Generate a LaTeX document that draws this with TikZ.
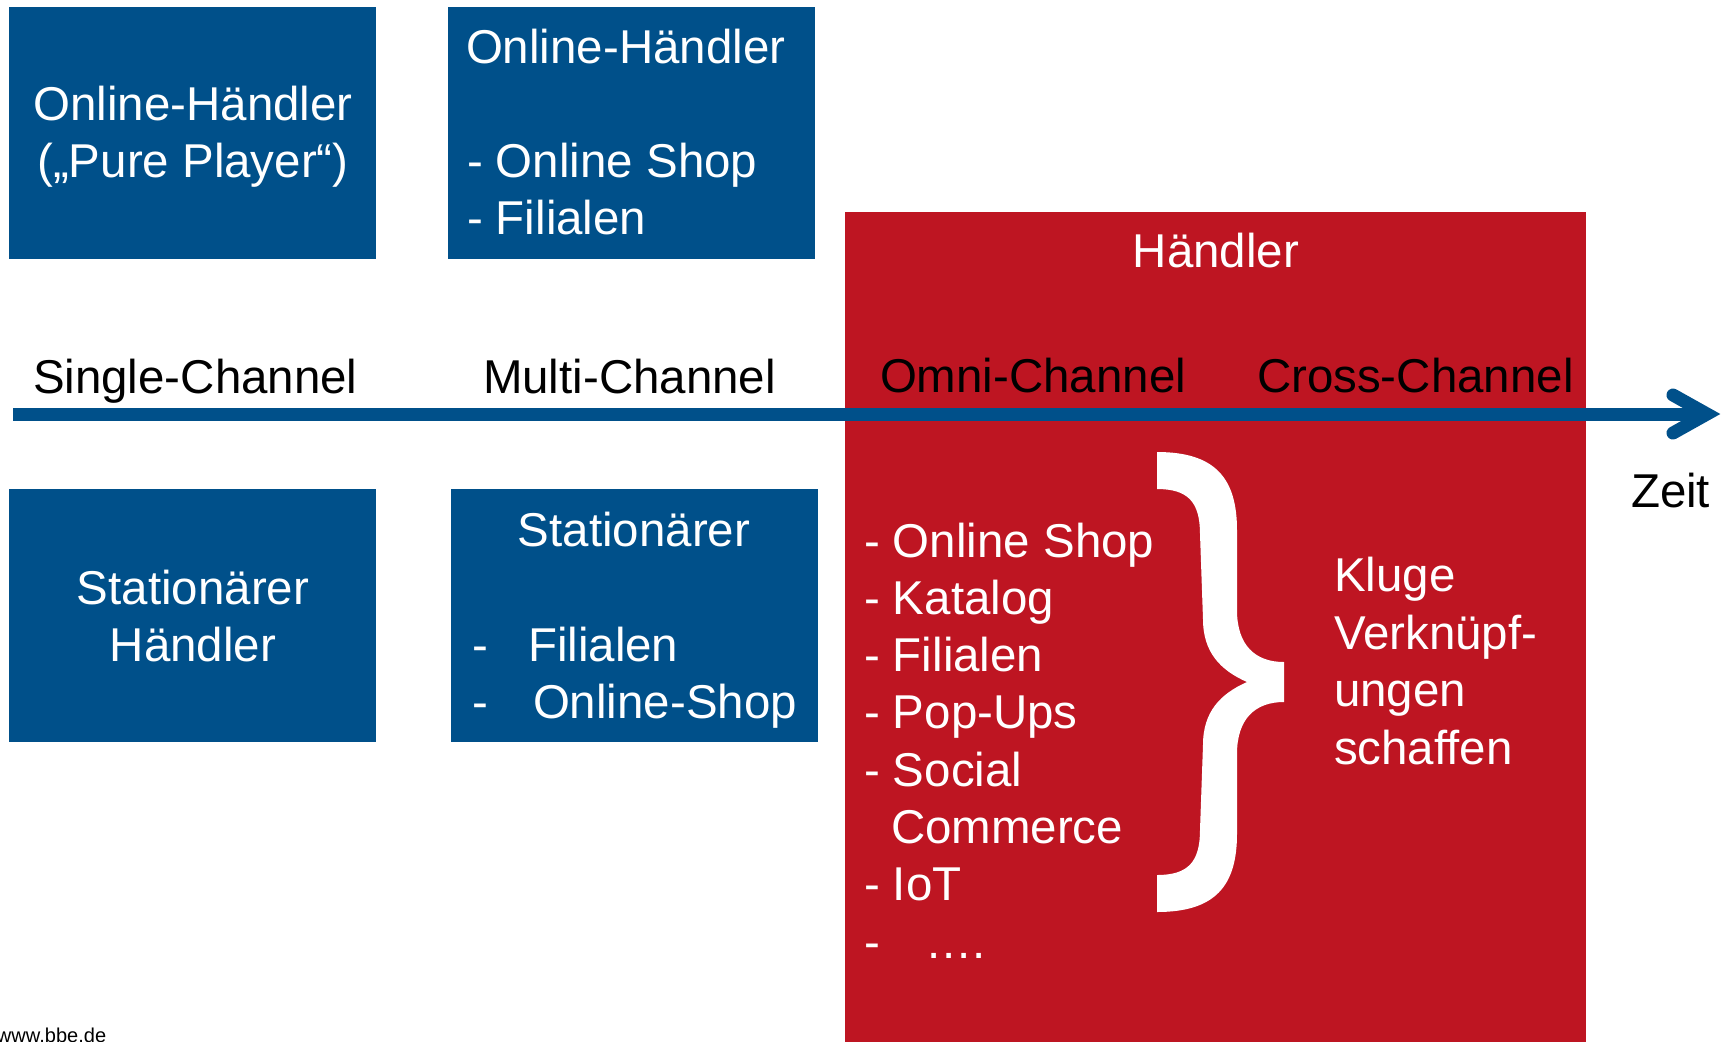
\documentclass[tikz,border=0pt]{standalone}
\usepackage{fontspec}
\setmainfont{Liberation Sans}
\definecolor{bbeblue}{RGB}{0,80,138}
\definecolor{bbered}{RGB}{190,21,34}
\begin{document}
\begin{tikzpicture}[x=0.01cm,y=-0.01cm,
  txt/.style={inner sep=0pt, outer sep=0pt, font=\fontsize{13.5}{16}\selectfont},
  wl/.style={txt, text=white, anchor=base west},
  wc/.style={txt, text=white, anchor=base},
  bl/.style={txt, text=black, anchor=base west},
  axis/.style={draw=bbeblue, line width=3.7pt},
]
\useasboundingbox[fill=white] (0,0) rectangle (1729,1041);

% boxes
\fill[bbeblue] (9,7) rectangle (376,259);
\fill[bbeblue] (448,7) rectangle (815,259);
\fill[bbeblue] (9,489) rectangle (376,742);
\fill[bbeblue] (451,489) rectangle (818,742);
\fill[bbered] (845,212) rectangle (1586,1045);

% box 1
\node[wc] (b1a) at (193,120) {Online-Händler};
\node[wc] (b1b) at (193,177) {(„Pure Player“)};
% box 2
\node[wl] (b2a) at (466,63) {Online-Händler};
\node[wl] (b2b) at (467,177) {- Online Shop};
\node[wl] (b2c) at (467,234) {- Filialen};
% box 3
\node[wc] (b3a) at (193,604) {Stationärer};
\node[wc] (b3b) at (193,661) {Händler};
% box 4
\node[wc] (b4a) at (634,546) {Stationärer};
\node[wl] (b4d1) at (472,661) {-};
\node[wl] (b4b) at (528,661) {Filialen};
\node[wl] (b4d2) at (472,718) {-};
\node[wl] (b4c) at (533,718) {Online-Shop};

% red box
\node[wc] (rh) at (1216,267) {Händler};
\node[wl] (l1) at (864,557) {- Online Shop};
\node[wl] (l2) at (864,614) {- Katalog};
\node[wl] (l3) at (864,671) {- Filialen};
\node[wl] (l4) at (864,728) {- Pop-Ups};
\node[wl] (l5) at (864,786) {- Social};
\node[wl] (l6) at (891,843) {Commerce};
\node[wl] (l7) at (864,900) {- IoT};
\node[wl] (l8d) at (864,958) {-};
\node[wl] (l8) at (927,958) {.\kern0.6pt.\kern0.6pt.\kern0.6pt.};
\node[wl] (k1) at (1334,591) {Kluge};
\node[wl] (k2) at (1334,649) {Verknüpf-};
\node[wl] (k3) at (1334,706) {ungen};
\node[wl] (k4) at (1334,764) {schaffen};

% brace
\fill[white] (1157,452)
  .. controls (1215,452) and (1237,478) .. (1237,530)
  -- (1237,610)
  .. controls (1237,645) and (1255,662) .. (1284,662)
  -- (1284,702)
  .. controls (1255,702) and (1237,719) .. (1237,754)
  -- (1237,834)
  .. controls (1237,886) and (1215,912) .. (1157,912)
  -- (1157,875)
  .. controls (1188,875) and (1200,862) .. (1200,830)
  -- (1203,745)
  .. controls (1203,712) and (1220,694) .. (1247,682)
  .. controls (1220,670) and (1203,652) .. (1203,619)
  -- (1200,534)
  .. controls (1200,502) and (1188,489) .. (1157,489)
  -- cycle;

% channel labels
\node[bl] (c1) at (33,393) {Single-Channel};
\node[bl] (c2) at (483,393) {Multi-Channel};
\node[bl] (c3) at (880,392) {Omni-Channel};
\node[bl] (c4) at (1257,392) {Cross-Channel};

% time axis
\coordinate (axstart) at (13,414);
\coordinate (axend) at (1707,414);
\coordinate (hdtop) at (1673,395);
\coordinate (hdbot) at (1673,433);
\draw[axis] (axstart) -- (axend);
\draw[axis, line cap=round, line join=miter] (hdtop) -- (axend) -- (hdbot);
\node[bl] (zeit) at (1631,507) {Zeit};

% footer
\node[txt, text=black, anchor=base west, font=\fontsize{5.7}{7}\selectfont] (www) at (-3,1042) {www.bbe.de};
\end{tikzpicture}
\end{document}
